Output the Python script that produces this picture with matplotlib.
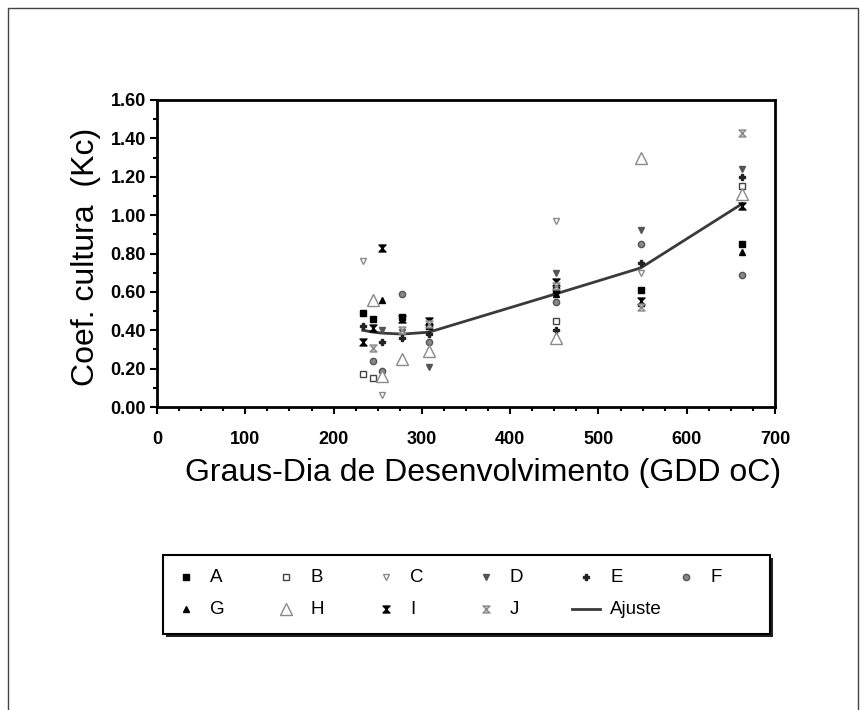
import numpy as np
import matplotlib
matplotlib.use("Agg")
import matplotlib.pyplot as plt
from matplotlib.patches import Rectangle
from matplotlib.lines import Line2D
from matplotlib.path import Path
from matplotlib.ticker import MultipleLocator, FormatStrFormatter

plt.rcParams['font.family'] = ['Liberation Sans', 'DejaVu Sans']

# GDD (oC) of the sampling dates
gdd = [233, 245, 255, 278, 308, 452, 548, 663]

# crop coefficient per treatment (nan = no point at that date)
nan = np.nan
kc_A = [0.49, 0.46, nan, 0.47, 0.42, 0.61, 0.61, 0.85]
kc_B = [0.17, 0.15, nan, nan, nan, 0.45, nan, 1.15]
kc_C = [0.76, nan, 0.06, nan, nan, 0.97, 0.70, nan]
kc_D = [nan, nan, 0.40, 0.39, 0.21, 0.70, 0.92, 1.24]
kc_E = [0.42, nan, 0.34, 0.36, 0.38, 0.40, 0.75, 1.20]
kc_F = [nan, 0.24, 0.19, 0.59, 0.34, 0.545, 0.85, 0.69]
kc_G = [nan, nan, 0.56, nan, nan, 0.59, 0.54, 0.81]
kc_H = [nan, 0.56, 0.16, 0.25, 0.29, 0.36, 1.30, 1.11]
kc_I = [0.34, 0.41, 0.83, 0.46, 0.45, 0.65, 0.55, 1.05]
kc_J = [nan, 0.31, nan, 0.40, 0.43, 0.63, 0.52, 1.43]

# fitted curve
fit_gdd = [233, 245, 255, 278, 308, 452, 548, 663]
fit_kc = [0.40, 0.39, 0.385, 0.38, 0.39, 0.59, 0.725, 1.06]

# hourglass marker used for I and J
hourglass = Path([(-1, 1), (1, 1), (-1, -1), (1, -1), (-1, 1)],
                 [Path.MOVETO, Path.LINETO, Path.LINETO, Path.LINETO, Path.CLOSEPOLY])

series = [
    ('A', kc_A, dict(marker='s', ms=4, mfc='black', mec='black')),
    ('B', kc_B, dict(marker='s', ms=5, mfc='white', mec='#444444', mew=1)),
    ('C', kc_C, dict(marker='v', ms=5, mfc='white', mec='#8a8a8a', mew=1)),
    ('D', kc_D, dict(marker='v', ms=5, mfc='#555555', mec='#555555')),
    ('E', kc_E, dict(marker='P', ms=5, mfc='#222222', mec='#222222')),
    ('F', kc_F, dict(marker='o', ms=4.5, mfc='#888888', mec='#555555', mew=1)),
    ('G', kc_G, dict(marker='^', ms=5, mfc='black', mec='black')),
    ('H', kc_H, dict(marker='^', ms=8, mfc='white', mec='#8a8a8a', mew=1)),
    ('I', kc_I, dict(marker=hourglass, ms=5, mfc='black', mec='black')),
    ('J', kc_J, dict(marker=hourglass, ms=5, mfc='#c8c8c8', mec='#8a8a8a', mew=1)),
]
fit_style = dict(color='#3a3a3a', lw=2)

W, H = 868, 710
fig = plt.figure(figsize=(W / 100, H / 100), dpi=100)
ax = fig.add_axes([157 / W, 1 - 407 / H, 618 / W, 307 / H])

for name, vals, style in series:
    ax.plot(gdd, vals, ls='none', label=name, **style)
ax.plot(fit_gdd, fit_kc, label='Ajuste', zorder=1, **fit_style)

ax.set_xlim(0, 700)
ax.set_ylim(0, 1.6)
ax.xaxis.set_major_locator(MultipleLocator(100))
ax.xaxis.set_minor_locator(MultipleLocator(25))
ax.yaxis.set_major_locator(MultipleLocator(0.2))
ax.yaxis.set_minor_locator(MultipleLocator(0.1))
ax.yaxis.set_major_formatter(FormatStrFormatter('%.2f'))

for sp in ax.spines.values():
    sp.set_linewidth(2)
ax.tick_params(which='both', direction='out', width=1.5, top=False, right=False)
ax.tick_params(which='major', length=5)
ax.tick_params(which='minor', length=3)
ax.tick_params(axis='x', pad=12, labelsize=13)
ax.tick_params(axis='y', pad=3, labelsize=13)
for lab in ax.get_xticklabels() + ax.get_yticklabels():
    lab.set_fontweight('bold')

ax.set_xlabel('Graus-Dia de Desenvolvimento (GDD oC)', fontsize=23, va='center')
ax.xaxis.set_label_coords(0.528, -0.215)
ax.set_ylabel('Coef. cultura  (Kc)', fontsize=23, va='center')
ax.yaxis.set_label_coords(-0.115, 0.49)

# legend box drawn by hand so the columns sit on an even grid
box_x0, box_y0, box_x1, box_y1 = 163, 555, 770, 634
fig.patches.append(Rectangle((box_x0 / W + 3 / W, 1 - box_y1 / H - 3 / H),
                             (box_x1 - box_x0) / W, (box_y1 - box_y0) / H,
                             transform=fig.transFigure, facecolor='#222222',
                             edgecolor='none', zorder=3))
fig.patches.append(Rectangle((box_x0 / W, 1 - box_y1 / H),
                             (box_x1 - box_x0) / W, (box_y1 - box_y0) / H,
                             transform=fig.transFigure, facecolor='white',
                             edgecolor='black', lw=1.5, zorder=4))

entries = [(name, style) for name, _, style in series] + [('Ajuste', None)]
col_x0, col_step = 186, 100
row_y = [577, 609]
for i, (name, style) in enumerate(entries):
    r, c = divmod(i, 6)
    xc = col_x0 + c * col_step
    yc = row_y[r]
    if style is None:
        fig.add_artist(Line2D([(xc - 14) / W, (xc + 14) / W], [1 - yc / H] * 2,
                              transform=fig.transFigure, zorder=5, **fit_style))
    else:
        fig.add_artist(Line2D([xc / W], [1 - yc / H], ls='none',
                              transform=fig.transFigure, zorder=5, **style))
    fig.text((xc + 24) / W, 1 - yc / H, name, fontsize=13.5, ha='left',
             va='center', zorder=5)

# outer page frame
fig.patches.append(Rectangle((8 / W, -0.01), 850 / W, 1.01 - 8 / H,
                             transform=fig.transFigure, fill=False,
                             edgecolor='#444444', lw=1))

fig.savefig('out.png', dpi=100)
